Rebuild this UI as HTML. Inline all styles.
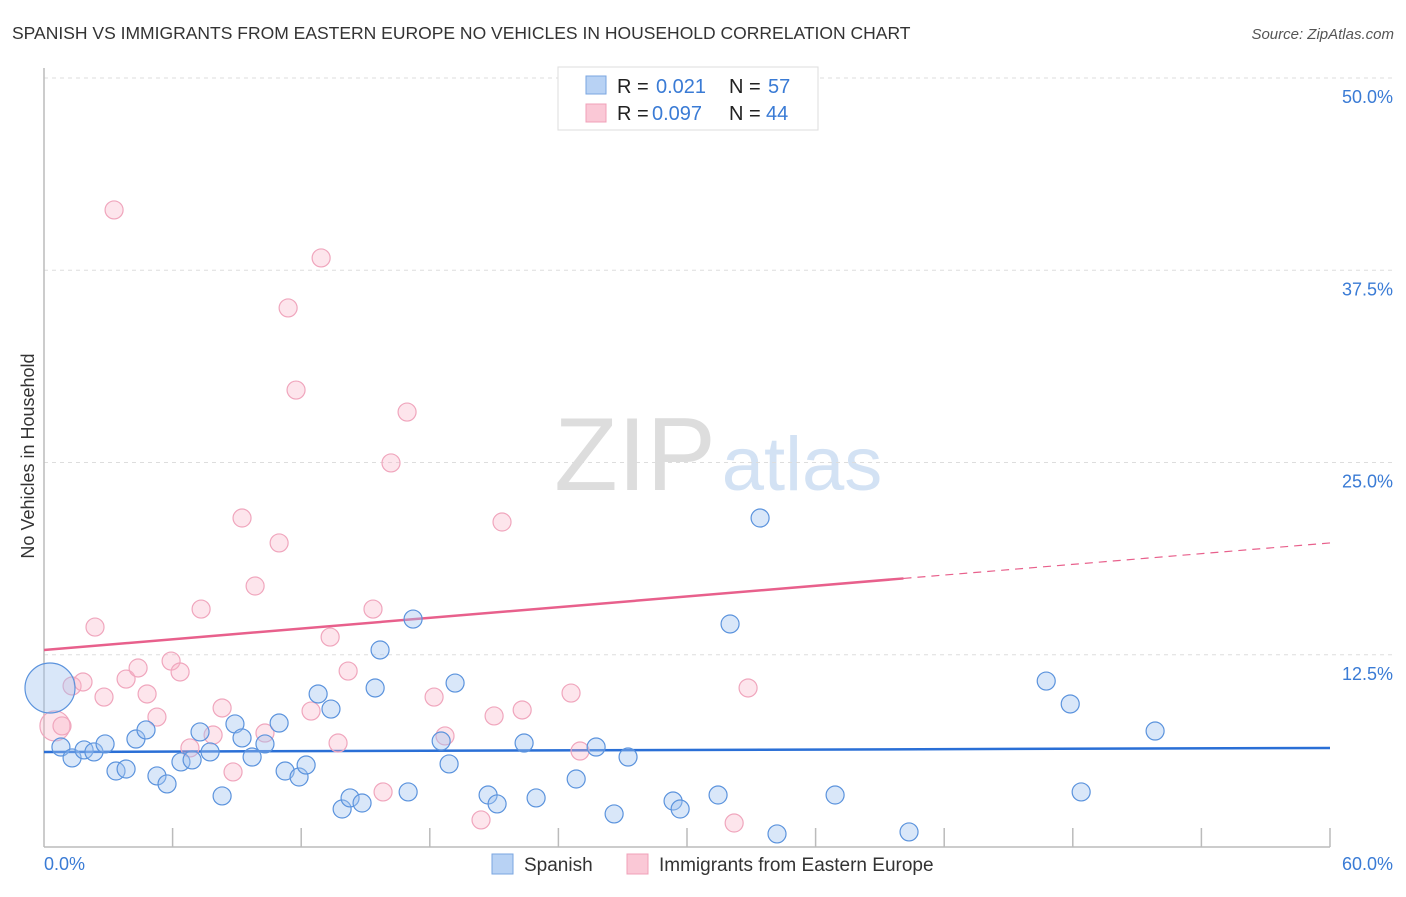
<!DOCTYPE html>
<html><head><meta charset="utf-8"><style>
body{margin:0;background:#fff;font-family:"Liberation Sans",sans-serif;}
svg text{font-family:"Liberation Sans",sans-serif;}
</style></head><body>
<svg id="chart" width="1406" height="892">
<text x="12" y="39" font-size="17.5" fill="#333">SPANISH VS IMMIGRANTS FROM EASTERN EUROPE NO VEHICLES IN HOUSEHOLD CORRELATION CHART</text>
<text x="1394" y="39" font-size="15" fill="#555" font-style="italic" text-anchor="end">Source: ZipAtlas.com</text>
<text transform="translate(34,456) rotate(-90)" font-size="18" fill="#333" text-anchor="middle">No Vehicles in Household</text>
<g><text x="635" y="490" font-size="104" fill="#ddd" font-family="Liberation Serif" text-anchor="middle">ZIP</text><text x="802" y="490" font-size="76" fill="#d3e2f4" text-anchor="middle">atlas</text></g>
<g id="grid"></g><g id="axes"></g><g id="trend"></g><g id="pts"></g>
<g>
<rect x="558" y="67" width="260" height="63" fill="#fff" stroke="#ddd"/>
<rect x="586" y="76" width="20" height="18" fill="#b8d2f4" stroke="#7aa6e0"/>
<rect x="586" y="104" width="20" height="18" fill="#fac8d6" stroke="#f0a0b8"/>
<text x="617" y="93" font-size="20" fill="#222">R = </text><text x="656" y="93" font-size="20" fill="#3a7bd5">0.021</text>
<text x="729" y="93" font-size="20" fill="#222">N = </text><text x="768" y="93" font-size="20" fill="#3a7bd5">57</text>
<text x="617" y="120" font-size="20" fill="#222">R = </text><text x="652" y="120" font-size="20" fill="#3a7bd5">0.097</text>
<text x="729" y="120" font-size="20" fill="#222">N = </text><text x="766" y="120" font-size="20" fill="#3a7bd5">44</text>
</g>
<g>
<rect x="492" y="854" width="21" height="20" fill="#b8d2f4" stroke="#7aa6e0"/>
<text x="524" y="871" font-size="19" fill="#333">Spanish</text>
<rect x="627" y="854" width="21" height="20" fill="#fac8d6" stroke="#f0a0b8"/>
<text x="659" y="871" font-size="19" fill="#333">Immigrants from Eastern Europe</text>
</g>
</svg>
<script>
const yTicks=[12.5,25.0,37.5,50.0];
const xTickVals=[6,12,18,24,30,36,42,48,54,60];
const blueX=[0.28,0.79,1.31,1.87,2.33,2.85,3.36,3.83,4.29,4.76,5.27,5.74,6.39,6.91,7.28,7.75,8.31,8.91,9.24,9.71,10.31,10.97,11.25,11.90,12.23,12.79,13.39,13.91,14.28,14.84,15.45,15.68,16.99,17.22,18.53,18.90,19.18,20.72,21.14,22.40,22.96,24.83,25.76,26.60,27.25,29.35,29.68,31.45,32.01,33.41,34.20,36.91,40.36,46.76,47.88,48.39,51.84];
const blueY=[10.34,6.50,5.79,6.31,6.18,6.70,4.94,5.07,7.02,7.61,4.62,4.10,5.53,5.66,7.48,6.18,3.32,8.00,7.09,5.85,6.70,8.06,4.94,4.55,5.33,9.95,8.97,2.47,3.19,2.86,10.34,12.81,3.58,14.82,6.89,5.40,10.66,3.38,2.80,6.76,3.19,4.42,6.50,2.15,5.85,2.99,2.47,3.38,14.50,21.39,0.85,3.38,0.98,10.79,9.30,3.58,7.54];
const pinkX=[0.51,0.84,1.31,1.82,2.38,2.80,3.27,3.83,4.39,4.81,5.27,5.93,6.35,6.81,7.33,7.89,8.31,8.82,9.24,9.85,10.31,10.97,11.39,11.76,12.46,12.93,13.35,13.72,14.19,15.35,15.82,16.19,16.94,18.20,18.71,20.39,21.00,21.37,22.31,24.59,25.01,32.20,32.85,35.39];
const pinkY=[7.87,7.87,10.47,10.73,14.30,9.75,41.42,10.92,11.64,9.95,8.45,12.09,11.38,6.44,15.47,7.28,9.04,4.88,21.39,16.97,7.41,19.77,35.05,29.71,8.84,38.30,13.65,6.76,11.44,15.47,3.58,24.97,28.28,9.75,7.22,1.76,8.52,21.13,8.91,10.01,6.24,1.56,10.34,47.53];
const blueTrend=[6.18,6.44];
const pinkTrend=[12.81,19.77];
const pinkSolidEnd=40.1;
const NS="http://www.w3.org/2000/svg";
const X=v=>44+v*(1286/60), Y=v=>847-v*(769/50);
function mk(t,a,p){const e=document.createElementNS(NS,t);for(const k in a)e.setAttribute(k,a[k]);p.appendChild(e);return e;}
const grid=document.getElementById('grid'),axes=document.getElementById('axes');
mk('line',{x1:44,x2:1394,y1:Y(50),y2:Y(50),stroke:'#ddd','stroke-dasharray':'4,4'},grid);
yTicks.forEach(t=>{
 const l=mk('line',{x1:44,x2:1394,y1:Y(t),y2:Y(t),stroke:'#ddd','stroke-dasharray':'4,4'},grid);
 
 
 const tx=mk('text',{x:1393,y:Y(t)+25,'font-size':18,fill:'#3a7bd5','text-anchor':'end'},axes);
 tx.textContent=t.toFixed(1)+'%';
 
 
});
mk('line',{x1:44,x2:44,y1:68,y2:847,stroke:'#bbb','stroke-width':1.5},axes);
mk('line',{x1:44,x2:1330,y1:847,y2:847,stroke:'#bbb','stroke-width':1.5},axes);
xTickVals.forEach(t=>{const l=mk('line',{x1:X(t),x2:X(t),y1:828,y2:847,stroke:'#bbb','stroke-width':1.5},axes);
 
 });
let a=mk('text',{x:44,y:870,'font-size':18,fill:'#3a7bd5'},axes);a.textContent='0.0%';


a=mk('text',{x:1393,y:870,'font-size':18,fill:'#3a7bd5','text-anchor':'end'},axes);a.textContent='60.0%';


const pts=document.getElementById('pts');
pinkX.forEach((x,i)=>{const c=mk('circle',{cx:X(x),cy:Y(pinkY[i]),r:i==0?15:9,fill:'rgba(248,180,200,0.35)',stroke:'#f0a6bd','stroke-width':1.2},pts);
 
 });
blueX.forEach((x,i)=>{const c=mk('circle',{cx:X(x),cy:Y(blueY[i]),r:i==0?25:9,fill:'rgba(160,196,240,0.4)',stroke:'#5b93dd','stroke-width':1.2},pts);
 
 });
const tr=document.getElementById('trend');
let l=mk('line',{x1:X(0),y1:Y(blueTrend[0]),x2:X(60),y2:Y(blueTrend[1]),stroke:'#2a6fd6','stroke-width':2.5},tr);


const py=x=>pinkTrend[0]+(pinkTrend[1]-pinkTrend[0])*x/60;
l=mk('line',{x1:X(0),y1:Y(py(0)),x2:X(pinkSolidEnd),y2:Y(py(pinkSolidEnd)),stroke:'#e8608c','stroke-width':2.5},tr);


l=mk('line',{x1:X(pinkSolidEnd),y1:Y(py(pinkSolidEnd)),x2:X(60),y2:Y(py(60)),stroke:'#e8608c','stroke-width':1.2,'stroke-dasharray':'8,6'},tr);


</script>
</body></html>
